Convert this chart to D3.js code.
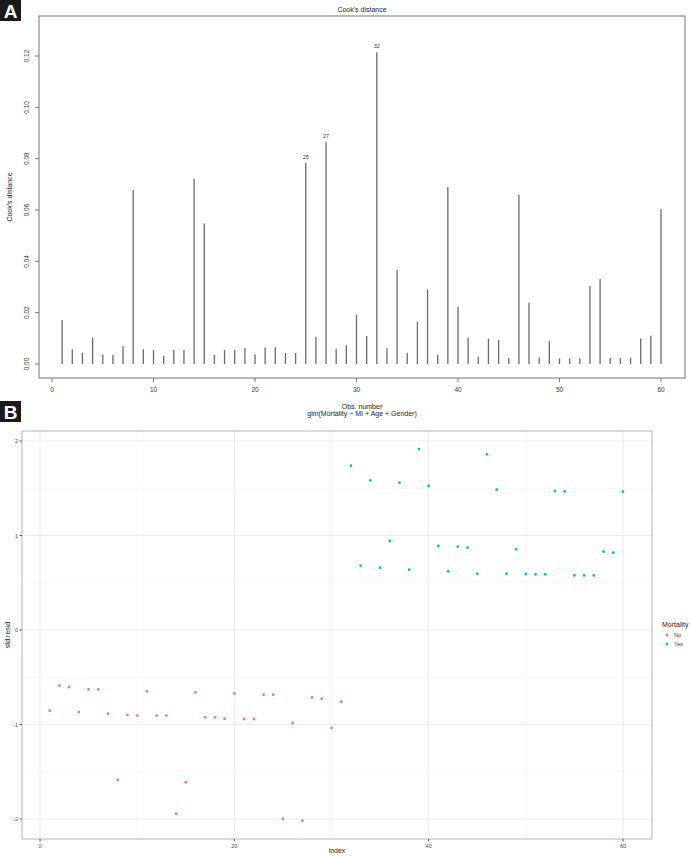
<!DOCTYPE html>
<html><head><meta charset="utf-8">
<script src="https://cdn.jsdelivr.net/npm/d3@7"></script>
<style>
html,body{margin:0;padding:0;background:#fff;}
svg text{font-family:"Liberation Sans",Arial,Helvetica,sans-serif;}
</style></head>
<body>
<svg id="c" width="690" height="856"></svg>
<script>
// ---- Panel A data: Cook's distance by observation ----
const obsIndex = d3.range(1, 61);
const cooksD = [
 0.0171,0.0057,0.0044,0.0103,0.0035,0.0035,0.0070,0.0678,0.0057,0.0055,
 0.0032,0.0055,0.0055,0.0722,0.0547,0.0035,0.0055,0.0055,0.0062,0.0038,
 0.0064,0.0065,0.0043,0.0043,0.0784,0.0106,0.0866,0.0058,0.0073,0.0192,
 0.0109,0.1215,0.0061,0.0366,0.0044,0.0164,0.0291,0.0036,0.0690,0.0223,
 0.0103,0.0029,0.0099,0.0094,0.0023,0.0658,0.0239,0.0025,0.0090,0.0022,
 0.0022,0.0022,0.0304,0.0331,0.0023,0.0023,0.0025,0.0099,0.0110,0.0604];
const labelledObs = [25, 27, 32];
const cooksYTicks = [0, 0.02, 0.04, 0.06, 0.08, 0.10, 0.12];
const cooksXTicks = [0, 10, 20, 30, 40, 50, 60];

// ---- Panel B data: standardized residuals ----
const stdResid = [
 -0.854,-0.589,-0.603,-0.868,-0.628,-0.628,-0.885,-1.587,-0.899,-0.906,
 -0.649,-0.906,-0.906,-1.944,-1.612,-0.660,-0.924,-0.924,-0.938,-0.670,
 -0.942,-0.942,-0.684,-0.684,-2.000,-0.984,-2.018,-0.712,-0.727,-1.037,
 -0.758, 1.739, 0.681, 1.584, 0.660, 0.942, 1.559, 0.638, 1.915, 1.524,
  0.889, 0.621, 0.882, 0.871, 0.596, 1.859, 1.485, 0.596, 0.854, 0.593,
  0.589, 0.589, 1.471, 1.467, 0.578, 0.578, 0.578, 0.829, 0.818, 1.464];
const mortality = [
 "No","No","No","No","No","No","No","No","No","No",
 "No","No","No","No","No","No","No","No","No","No",
 "No","No","No","No","No","No","No","No","No","No",
 "No","Yes","Yes","Yes","Yes","Yes","Yes","Yes","Yes","Yes",
 "Yes","Yes","Yes","Yes","Yes","Yes","Yes","Yes","Yes","Yes",
 "Yes","Yes","Yes","Yes","Yes","Yes","Yes","Yes","Yes","Yes"];
const mortalityLevels = ["No", "Yes"];
const residYTicks = [-2, -1, 0, 1, 2];
const residXTicks = [0, 20, 40, 60];

const svg = d3.select("#c");

// ================= Panel A =================
const xA = d3.scaleLinear().domain([0, 60]).range([52, 661]);
const yA = d3.scaleLinear().domain([0, 0.12]).range([364, 56]);
const boxA = {x0: 39, x1: 685, y0: 16, y1: 378};
const gA = svg.append("g");

gA.append("rect").attr("x", boxA.x0).attr("y", boxA.y0)
  .attr("width", boxA.x1 - boxA.x0).attr("height", boxA.y1 - boxA.y0)
  .attr("fill", "none").attr("stroke", "#8a8a8a").attr("stroke-width", 1.2);

gA.selectAll("line.bar").data(obsIndex).join("line").attr("class", "bar")
  .attr("x1", d => xA(d)).attr("x2", d => xA(d))
  .attr("y1", yA(0)).attr("y2", d => yA(cooksD[d - 1]))
  .attr("stroke", "#6a6a6a").attr("stroke-width", 1.3);

gA.selectAll("text.lab").data(labelledObs).join("text").attr("class", "lab")
  .attr("x", d => xA(d)).attr("y", d => yA(cooksD[d - 1]) - 4)
  .attr("text-anchor", "middle").attr("font-size", 5.5).attr("fill", "#333")
  .text(d => d);

// y axis
gA.selectAll("line.yt").data(cooksYTicks).join("line").attr("class", "yt")
  .attr("x1", boxA.x0 - 4).attr("x2", boxA.x0).attr("y1", d => yA(d)).attr("y2", d => yA(d))
  .attr("stroke", "#777");
gA.selectAll("text.yt").data(cooksYTicks).join("text").attr("class", "yt")
  .attr("transform", d => `translate(29,${yA(d)}) rotate(-90)`)
  .attr("text-anchor", "middle").attr("font-size", 6.5).attr("fill", "#333")
  .text(d3.format(".2f"));
gA.append("text").attr("transform", `translate(12,${(boxA.y0 + boxA.y1) / 2}) rotate(-90)`)
  .attr("text-anchor", "middle").attr("font-size", 7).attr("fill", "#222")
  .text("Cook's distance");

// x axis
gA.selectAll("line.xt").data(cooksXTicks).join("line").attr("class", "xt")
  .attr("x1", d => xA(d)).attr("x2", d => xA(d)).attr("y1", boxA.y1).attr("y2", boxA.y1 + 4)
  .attr("stroke", "#777");
gA.selectAll("text.xt").data(cooksXTicks).join("text").attr("class", "xt")
  .attr("x", d => xA(d)).attr("y", 392)
  .attr("text-anchor", "middle").attr("font-size", 6.5).attr("fill", "#333")
  .text(d => d);
gA.append("text").attr("x", (boxA.x0 + boxA.x1) / 2).attr("y", 409)
  .attr("text-anchor", "middle").attr("font-size", 7).attr("fill", "#222").text("Obs. number");
gA.append("text").attr("x", (boxA.x0 + boxA.x1) / 2).attr("y", 416)
  .attr("text-anchor", "middle").attr("font-size", 7).attr("fill", "#222")
  .text("glm(Mortality ~ MI + Age + Gender)");
gA.append("text").attr("x", (boxA.x0 + boxA.x1) / 2).attr("y", 12)
  .attr("text-anchor", "middle").attr("font-size", 7).attr("fill", "#222").text("Cook's distance");

// ================= Panel B =================
const xB = d3.scaleLinear().domain([0, 60]).range([40, 623]);
const yB = d3.scaleLinear().domain([-2, 2]).range([819, 441]);
const boxB = {x0: 22, x1: 652, y0: 431, y1: 839};
const colB = d3.scaleOrdinal().domain(mortalityLevels).range(["#F8766D", "#00BFC4"]);
const gB = svg.append("g");

const minorX = [10, 30, 50];
const minorY = [-1.5, -0.5, 0.5, 1.5];
gB.selectAll("line.mgx").data(minorX).join("line").attr("class", "mgx")
  .attr("x1", d => xB(d)).attr("x2", d => xB(d)).attr("y1", boxB.y0).attr("y2", boxB.y1)
  .attr("stroke", "#f4f4f4").attr("stroke-width", 0.8);
gB.selectAll("line.mgy").data(minorY).join("line").attr("class", "mgy")
  .attr("x1", boxB.x0).attr("x2", boxB.x1).attr("y1", d => yB(d)).attr("y2", d => yB(d))
  .attr("stroke", "#f4f4f4").attr("stroke-width", 0.8);
gB.selectAll("line.gx").data(residXTicks).join("line").attr("class", "gx")
  .attr("x1", d => xB(d)).attr("x2", d => xB(d)).attr("y1", boxB.y0).attr("y2", boxB.y1)
  .attr("stroke", "#ebebeb").attr("stroke-width", 1);
gB.selectAll("line.gy").data(residYTicks).join("line").attr("class", "gy")
  .attr("x1", boxB.x0).attr("x2", boxB.x1).attr("y1", d => yB(d)).attr("y2", d => yB(d))
  .attr("stroke", "#ebebeb").attr("stroke-width", 1);

gB.append("rect").attr("x", boxB.x0).attr("y", boxB.y0)
  .attr("width", boxB.x1 - boxB.x0).attr("height", boxB.y1 - boxB.y0)
  .attr("fill", "none").attr("stroke", "#b5b5b5").attr("stroke-width", 1);

gB.selectAll("circle.pt").data(obsIndex).join("circle").attr("class", "pt")
  .attr("cx", d => xB(d)).attr("cy", d => yB(stdResid[d - 1])).attr("r", 1.4)
  .attr("fill", d => colB(mortality[d - 1]));

// axes
gB.selectAll("line.yt").data(residYTicks).join("line").attr("class", "yt")
  .attr("x1", boxB.x0 - 2.5).attr("x2", boxB.x0).attr("y1", d => yB(d)).attr("y2", d => yB(d))
  .attr("stroke", "#555");
gB.selectAll("text.yt").data(residYTicks).join("text").attr("class", "yt")
  .attr("x", boxB.x0 - 4).attr("y", d => yB(d) + 2)
  .attr("text-anchor", "end").attr("font-size", 5.5).attr("fill", "#444")
  .text(d => d);
gB.selectAll("line.xt").data(residXTicks).join("line").attr("class", "xt")
  .attr("x1", d => xB(d)).attr("x2", d => xB(d)).attr("y1", boxB.y1).attr("y2", boxB.y1 + 2.5)
  .attr("stroke", "#555");
gB.selectAll("text.xt").data(residXTicks).join("text").attr("class", "xt")
  .attr("x", d => xB(d)).attr("y", boxB.y1 + 8.5)
  .attr("text-anchor", "middle").attr("font-size", 5.5).attr("fill", "#444")
  .text(d => d);
gB.append("text").attr("x", (boxB.x0 + boxB.x1) / 2).attr("y", 853)
  .attr("text-anchor", "middle").attr("font-size", 7).attr("fill", "#222").text("index");
gB.append("text").attr("transform", `translate(10,${(boxB.y0 + boxB.y1) / 2}) rotate(-90)`)
  .attr("text-anchor", "middle").attr("font-size", 7).attr("fill", "#222").text("std.resid");

// legend
const leg = gB.append("g").attr("transform", "translate(662,627)");
leg.append("text").attr("x", 0).attr("y", 0).attr("font-size", 7).attr("fill", "#222").text("Mortality");
leg.selectAll("circle").data(mortalityLevels).join("circle")
  .attr("cx", 5).attr("cy", (d, i) => 8 + i * 9).attr("r", 1.4).attr("fill", d => colB(d));
leg.selectAll("text.li").data(mortalityLevels).join("text").attr("class", "li")
  .attr("x", 12).attr("y", (d, i) => 10 + i * 9).attr("font-size", 5.5).attr("fill", "#333")
  .text(d => d);

// panel letters
const letters = [{t: "A", y: 0}, {t: "B", y: 401}];
const gL = svg.append("g");
gL.selectAll("rect").data(letters).join("rect")
  .attr("x", 0).attr("y", d => d.y).attr("width", 21).attr("height", 21).attr("fill", "#1a1a1a");
gL.selectAll("text").data(letters).join("text")
  .attr("x", 10.5).attr("y", d => d.y + 17.5).attr("text-anchor", "middle")
  .attr("font-size", 19).attr("font-weight", "bold").attr("fill", "#fff").text(d => d.t);
</script>
</body></html>
